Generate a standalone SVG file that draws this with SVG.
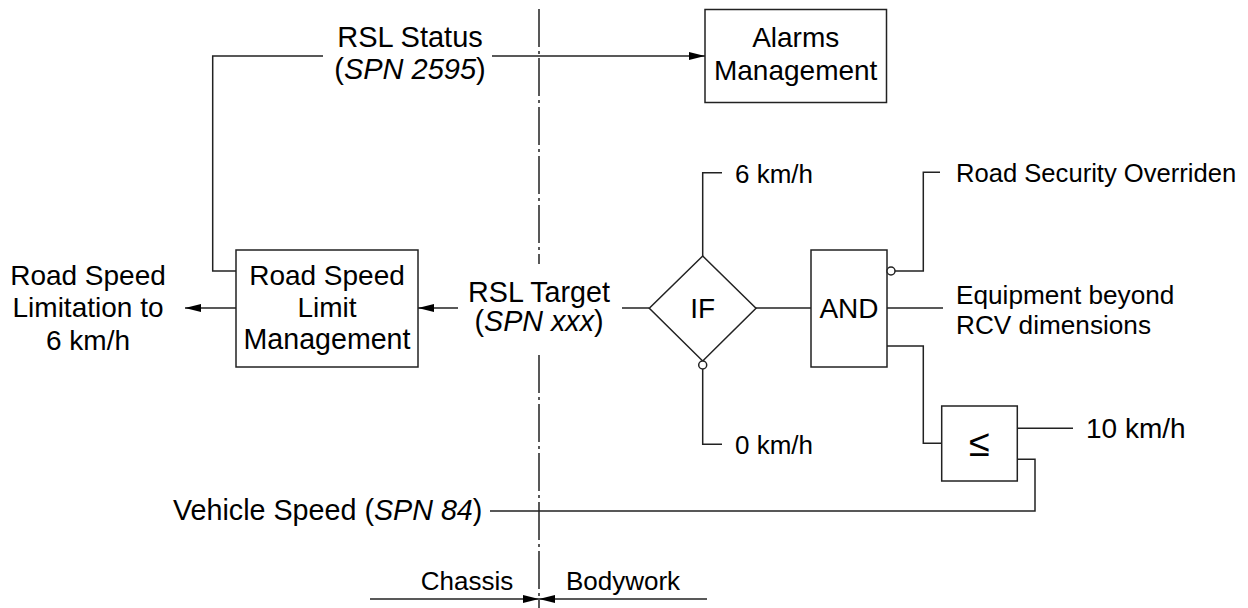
<svg xmlns="http://www.w3.org/2000/svg" width="1248" height="608" viewBox="0 0 1248 608">
<style>
.ln{fill:none;stroke:#222;stroke-width:1.5}
.bx{fill:#fff;stroke:#222;stroke-width:1.5}
.t{font-family:"Liberation Sans",Arial,sans-serif;font-size:28px;fill:#000}
.c{text-anchor:middle}
.i{font-style:italic}
.dd{fill:none;stroke:#222;stroke-width:1.5;stroke-dasharray:38 4 3 4}
</style>
<defs>
<marker id="ah" viewBox="0 0 16 8" refX="16" refY="4" markerWidth="16" markerHeight="8" orient="auto" markerUnits="userSpaceOnUse">
<path d="M0,0 L16,4 L0,8 z" fill="#000"/>
</marker>
</defs>
<rect width="1248" height="608" fill="#fff"/>

<g id="connectors">
<path class="ln" d="M236 271 H212.7 V56 H323"/>
<path class="ln" d="M492 56 H705" marker-end="url(#ah)"/>
<path class="ln" d="M236 308 H185" marker-end="url(#ah)"/>
<path class="ln" d="M458 308 H418" marker-end="url(#ah)"/>
<path class="ln" d="M622 308 H649"/>
<path class="ln" d="M756 308 H811"/>
<path class="ln" d="M702.7 256 V172.7 H722"/>
<path class="ln" d="M702.7 369 V444.3 H722"/>
<path class="ln" d="M895 271 H923.3 V172.3 H940"/>
<path class="ln" d="M887 308 H943"/>
<path class="ln" d="M887 346 H923.3 V443.3 H941.7"/>
<path class="ln" d="M1017.3 428.3 H1073"/>
<path class="ln" d="M1017.3 459.3 H1035 V511 H490"/>
<path class="ln" d="M370 599 H539" marker-end="url(#ah)"/>
<path class="ln" d="M707 599 H539" marker-end="url(#ah)"/>
</g>

<g id="boundary">
<path class="dd" d="M539 9 V264"/>
<path class="dd" d="M539 355 V608"/>
</g>

<g id="alarms">
<rect class="bx" x="705" y="9.5" width="181.5" height="93"/>
<text class="t c" x="795.7" y="46.5">Alarms</text>
<text class="t c" x="795.7" y="80">Management</text>
</g>

<g id="rslm">
<rect class="bx" x="236" y="250" width="182" height="117"/>
<text class="t c" x="327" y="285">Road Speed</text>
<text class="t c" x="327" y="317">Limit</text>
<text class="t c" x="327" y="349" style="font-size:28.6px">Management</text>
</g>

<g id="if">
<path class="bx" d="M702.7 256 L756 308.3 L702.7 361 L649.3 308.3 Z"/>
<circle class="bx" cx="702.7" cy="365" r="4"/>
<text class="t c" x="702.7" y="318">IF</text>
</g>

<g id="and">
<rect class="bx" x="811" y="250" width="76" height="117"/>
<circle class="bx" cx="891" cy="271" r="4"/>
<text class="t c" x="849" y="318">AND</text>
</g>

<g id="le">
<rect class="bx" x="941.7" y="406" width="75.6" height="75"/>
<text class="t c" x="979.5" y="456" style="font-size:38px">≤</text>
</g>

<g id="labels">
<text class="t c" x="410" y="46.5" style="font-size:29px">RSL Status</text>
<text class="t c" x="410" y="79" style="font-size:29px">(<tspan class="i">SPN 2595</tspan>)</text>
<text class="t c" x="88" y="285">Road Speed</text>
<text class="t c" x="88" y="317">Limitation to</text>
<text class="t c" x="88" y="350">6 km/h</text>
<text class="t c" x="539" y="301.5" style="font-size:28.7px">RSL Target</text>
<text class="t c" x="539" y="331" style="font-size:28.7px">(<tspan class="i">SPN xxx</tspan>)</text>
<text class="t" x="735" y="183" style="font-size:26px">6 km/h</text>
<text class="t" x="735" y="454" style="font-size:26px">0 km/h</text>
<text class="t" x="956" y="182" style="font-size:25.6px">Road Security Overriden</text>
<text class="t" x="956" y="304" style="font-size:26.2px">Equipment beyond</text>
<text class="t" x="956" y="334" style="font-size:26.2px">RCV dimensions</text>
<text class="t" x="1086" y="438">10 km/h</text>
<text class="t" x="173" y="520" style="font-size:28.7px">Vehicle Speed (<tspan class="i">SPN 84</tspan>)</text>
<text class="t c" x="467" y="590" style="font-size:26px">Chassis</text>
<text class="t c" x="623" y="590" style="font-size:26px">Bodywork</text>
</g>
</svg>
